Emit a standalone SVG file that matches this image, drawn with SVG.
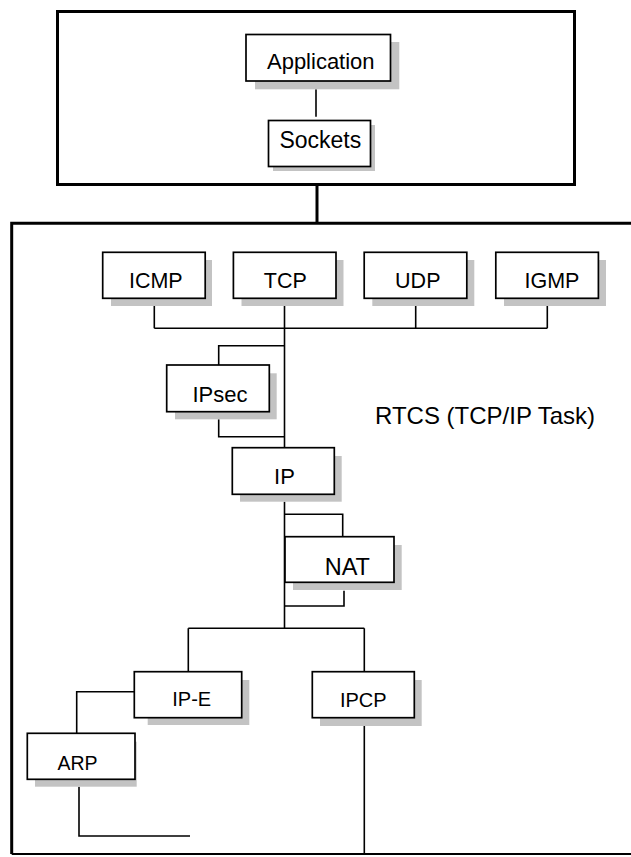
<svg xmlns="http://www.w3.org/2000/svg" width="631" height="857" viewBox="0 0 631 857">
<style>
.frame{fill:none;stroke:#000;stroke-width:3}
.box{fill:#fff;stroke:#000;stroke-width:1.7}
.sh{fill:#c3c3c3;stroke:none}
.ln{fill:none;stroke:#000;stroke-width:1.6}
text{font-family:"Liberation Sans",Arial,sans-serif;fill:#000;text-anchor:middle}
</style>
<rect width="631" height="857" fill="#fff"/>
<g id="frames">
<rect class="frame" x="57.5" y="11.5" width="517" height="173"/>
<path class="frame" d="M640 223.3 H11.7 V854"/>
<path fill="none" stroke="#000" stroke-width="2" d="M11.7 854 H640"/>
<text x="375" y="424" font-size="24" style="text-anchor:start">RTCS (TCP/IP Task)</text>
</g>
<g id="connectors">
<path class="frame" d="M317 184.5 V223"/>
<path class="ln" d="M316 89.3 V116.7"/>
<path class="ln" d="M154.3 306 V328.3 M415.7 306 V328.3 M547.3 306 V328.3 M154.3 328.3 H547.3"/>
<path class="ln" d="M284.5 306 V447.7"/>
<path class="ln" d="M284.5 345.7 H218.7 V365 M218.7 419.3 V436.7 H284.5"/>
<path class="ln" d="M284.5 501.7 V628.3"/>
<path class="ln" d="M284.5 514.3 H342.7 V536.7 M344 590.7 V606 H284.5"/>
<path class="ln" d="M188.3 628.3 H364.3 M188.3 628.3 V671.7 M364.3 628.3 V671.7"/>
<path class="ln" d="M364.3 726 V854"/>
<path class="ln" d="M140 691.7 H76.7 V733.3"/>
<path class="ln" d="M79 786.7 V836 H190"/>
</g>
<g id="application">
<rect class="sh" x="255" y="42" width="144.3" height="47.3"/>
<rect class="box" x="246" y="34.5" width="144.5" height="46.5"/>
<text x="320.8" y="69.3" font-size="22">Application</text>
</g>
<g id="sockets">
<rect class="sh" x="273" y="125" width="102" height="46"/>
<rect class="box" x="268.5" y="120.5" width="102" height="46"/>
<text x="320.3" y="147.7" font-size="23">Sockets</text>
</g>
<g id="icmp">
<rect class="sh" x="111" y="260" width="101" height="46"/>
<rect class="box" x="102.7" y="252.3" width="102.5" height="46"/>
<text x="155.8" y="288.3" font-size="21.5">ICMP</text>
</g>
<g id="tcp">
<rect class="sh" x="241.5" y="260" width="102" height="46"/>
<rect class="box" x="233.4" y="252.3" width="102.6" height="46"/>
<text x="285.3" y="288.3" font-size="21.5">TCP</text>
</g>
<g id="udp">
<rect class="sh" x="372.3" y="260" width="102" height="46"/>
<rect class="box" x="364.2" y="252.3" width="102.6" height="46"/>
<text x="417.8" y="288.3" font-size="21.5">UDP</text>
</g>
<g id="igmp">
<rect class="sh" x="504" y="260" width="102" height="46"/>
<rect class="box" x="495.8" y="252.3" width="102.6" height="46"/>
<text x="552" y="288.3" font-size="21.5">IGMP</text>
</g>
<g id="ipsec">
<rect class="sh" x="175" y="373.3" width="101.7" height="46"/>
<rect class="box" x="166.7" y="365" width="102.6" height="46.7"/>
<text x="220" y="402.3" font-size="22">IPsec</text>
</g>
<g id="ip">
<rect class="sh" x="240" y="456" width="101.7" height="45.7"/>
<rect class="box" x="232.3" y="447.7" width="102" height="46.6"/>
<text x="284.5" y="484" font-size="22">IP</text>
</g>
<g id="nat">
<rect class="sh" x="293" y="545" width="108.7" height="45"/>
<rect class="box" x="285" y="536.7" width="109" height="45.6"/>
<text x="347.3" y="575" font-size="23.5">NAT</text>
</g>
<g id="ip-e">
<rect class="sh" x="147.7" y="680" width="101.6" height="45"/>
<rect class="box" x="134.3" y="671.7" width="107.4" height="46"/>
<text x="191.7" y="705.7" font-size="20">IP-E</text>
</g>
<g id="ipcp">
<rect class="sh" x="320" y="680" width="101.7" height="46"/>
<rect class="box" x="312.3" y="671.7" width="102" height="46"/>
<text x="363.3" y="707.3" font-size="20">IPCP</text>
</g>
<g id="arp">
<rect class="sh" x="35" y="741.7" width="101.7" height="45"/>
<rect class="box" x="27.3" y="733.3" width="107.7" height="46"/>
<text x="77.5" y="770" font-size="19.5">ARP</text>
</g>
</svg>
